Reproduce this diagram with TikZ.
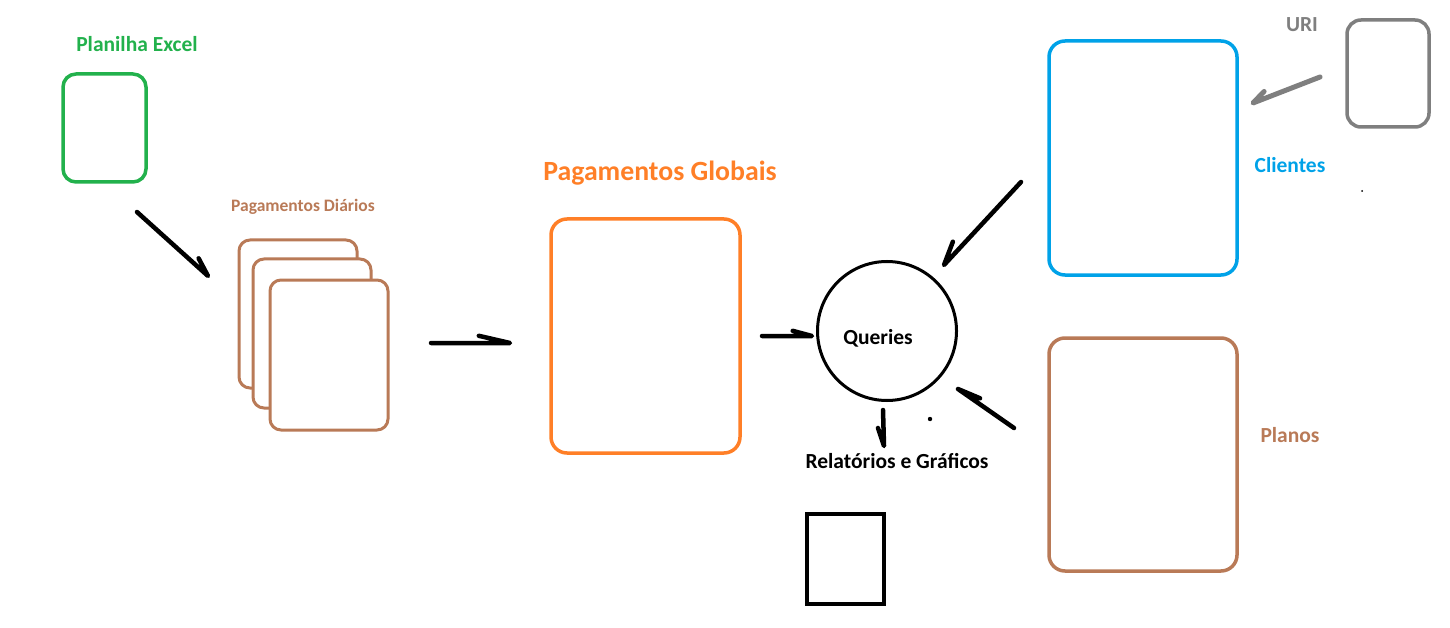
\documentclass[tikz,border=0pt]{standalone}
\usepackage{fontspec}
\setmainfont{Carlito}
\usetikzlibrary{calc}
\definecolor{cgreen}{HTML}{22B14C}
\definecolor{cbrown}{HTML}{B97A57}
\definecolor{corange}{HTML}{FF7F27}
\definecolor{cblue}{HTML}{00A2E8}
\definecolor{cgray}{HTML}{7F7F7F}
\tikzset{
  box/.style={draw=#1, line width=3.5pt, rounded corners=13pt, fill=white, inner sep=0pt},
  lbl/.style={inner sep=0pt, font=\fontsize{21.5}{24}\selectfont\bfseries, text=#1},
  arr/.style={line width=4.5pt, line cap=round, line join=round},
}
\begin{document}
\begin{tikzpicture}[x=1pt,y=1pt]
\useasboundingbox (0,0) rectangle (1450,-628);
% Planilha Excel
\node[lbl=cgreen] (excelt) at (137,-44) {Planilha Excel};
\node[box=cgreen, minimum width=83pt, minimum height=108pt] (excel) at (104.5,-128) {};
% Pagamentos Diarios
\node[lbl=cbrown, font=\fontsize{17.5}{20}\selectfont\bfseries] (diat) at (303,-207) {Pagamentos Diários};
\node[box=cbrown, line width=3pt, rounded corners=11pt, minimum width=118pt, minimum height=148pt] (dia1) at (298,-314) {};
\node[box=cbrown, line width=3pt, rounded corners=11pt, minimum width=118pt, minimum height=149pt] (dia2) at (312,-333.5) {};
\node[box=cbrown, line width=3pt, rounded corners=11pt, minimum width=118pt, minimum height=150pt] (dia3) at (329,-355) {};
% Pagamentos Globais
\node[lbl=corange, font=\fontsize{27.8}{30}\selectfont\bfseries] (globt) at (660,-173) {Pagamentos Globais};
\node[box=corange, rounded corners=16pt, minimum width=189pt, minimum height=234pt] (glob) at (645.5,-336) {};
% Queries
\node[draw=black, line width=3pt, circle, minimum size=139pt, inner sep=0pt] (q) at (887,-331) {};
\node[lbl=black] (qt) at (878,-338) {Queries};
\node[lbl=black] (relt) at (897,-461) {Relatórios e Gráficos};
\node[draw=black, line width=3.5pt, minimum width=77pt, minimum height=90pt, inner sep=0pt] (rel) at (845.5,-559) {};
% Clientes
\node[box=cblue, rounded corners=16pt, minimum width=188pt, minimum height=234pt] (cli) at (1143,-158) {};
\node[lbl=cblue] (clit) at (1290,-165) {Clientes};
% Planos
\node[box=cbrown, rounded corners=16pt, minimum width=188pt, minimum height=233pt] (pla) at (1143,-454.5) {};
\node[lbl=cbrown] (plat) at (1290,-435) {Planos};
% URI
\node[lbl=cgray] (urit) at (1302,-25) {URI};
\node[box=cgray, rounded corners=14pt, minimum width=82pt, minimum height=107pt] (uri) at (1388,-73.5) {};
% arrow coordinates
\coordinate (a1s) at (137,-212); \coordinate (a1e) at (208,-276);
\coordinate (a2s) at (431,-343); \coordinate (a2e) at (510,-343);
\coordinate (a3s) at (762,-336); \coordinate (a3e) at (812,-336);
\coordinate (a4s) at (1021,-182); \coordinate (a4e) at (944,-265);
\coordinate (a5s) at (1014,-428); \coordinate (a5e) at (958,-389);
\coordinate (a6s) at (883,-410); \coordinate (a6e) at (884,-446);
\coordinate (a7s) at (1320,-77); \coordinate (a7e) at (1253,-103);
% arrows with hand-drawn half barbs
\draw[arr] (a1s) -- (a1e) -- ($(a1e)!20pt!-20:(a1s)$);
\draw[arr] (a2s) -- (a2e) -- ($(a2e)!32pt!-13:(a2s)$);
\draw[arr] (a3s) -- (a3e) -- ($(a3e)!20pt!-15:(a3s)$);
\draw[arr] (a4s) -- (a4e) -- ($(a4e)!25pt!22:(a4s)$);
\draw[arr] (a5s) -- (a5e) -- ($(a5e)!24pt!12:(a5s)$);
\draw[arr] (a6s) -- (a6e) -- ($(a6e)!19pt!17:(a6s)$);
\draw[arr, draw=cgray, line width=5pt] (a7s) -- (a7e) -- ($(a7e)!16pt!25:(a7s)$);
% dots
\fill (930,-419) circle (2.2pt);
\fill (1362,-191) circle (1pt);
\end{tikzpicture}
\end{document}
